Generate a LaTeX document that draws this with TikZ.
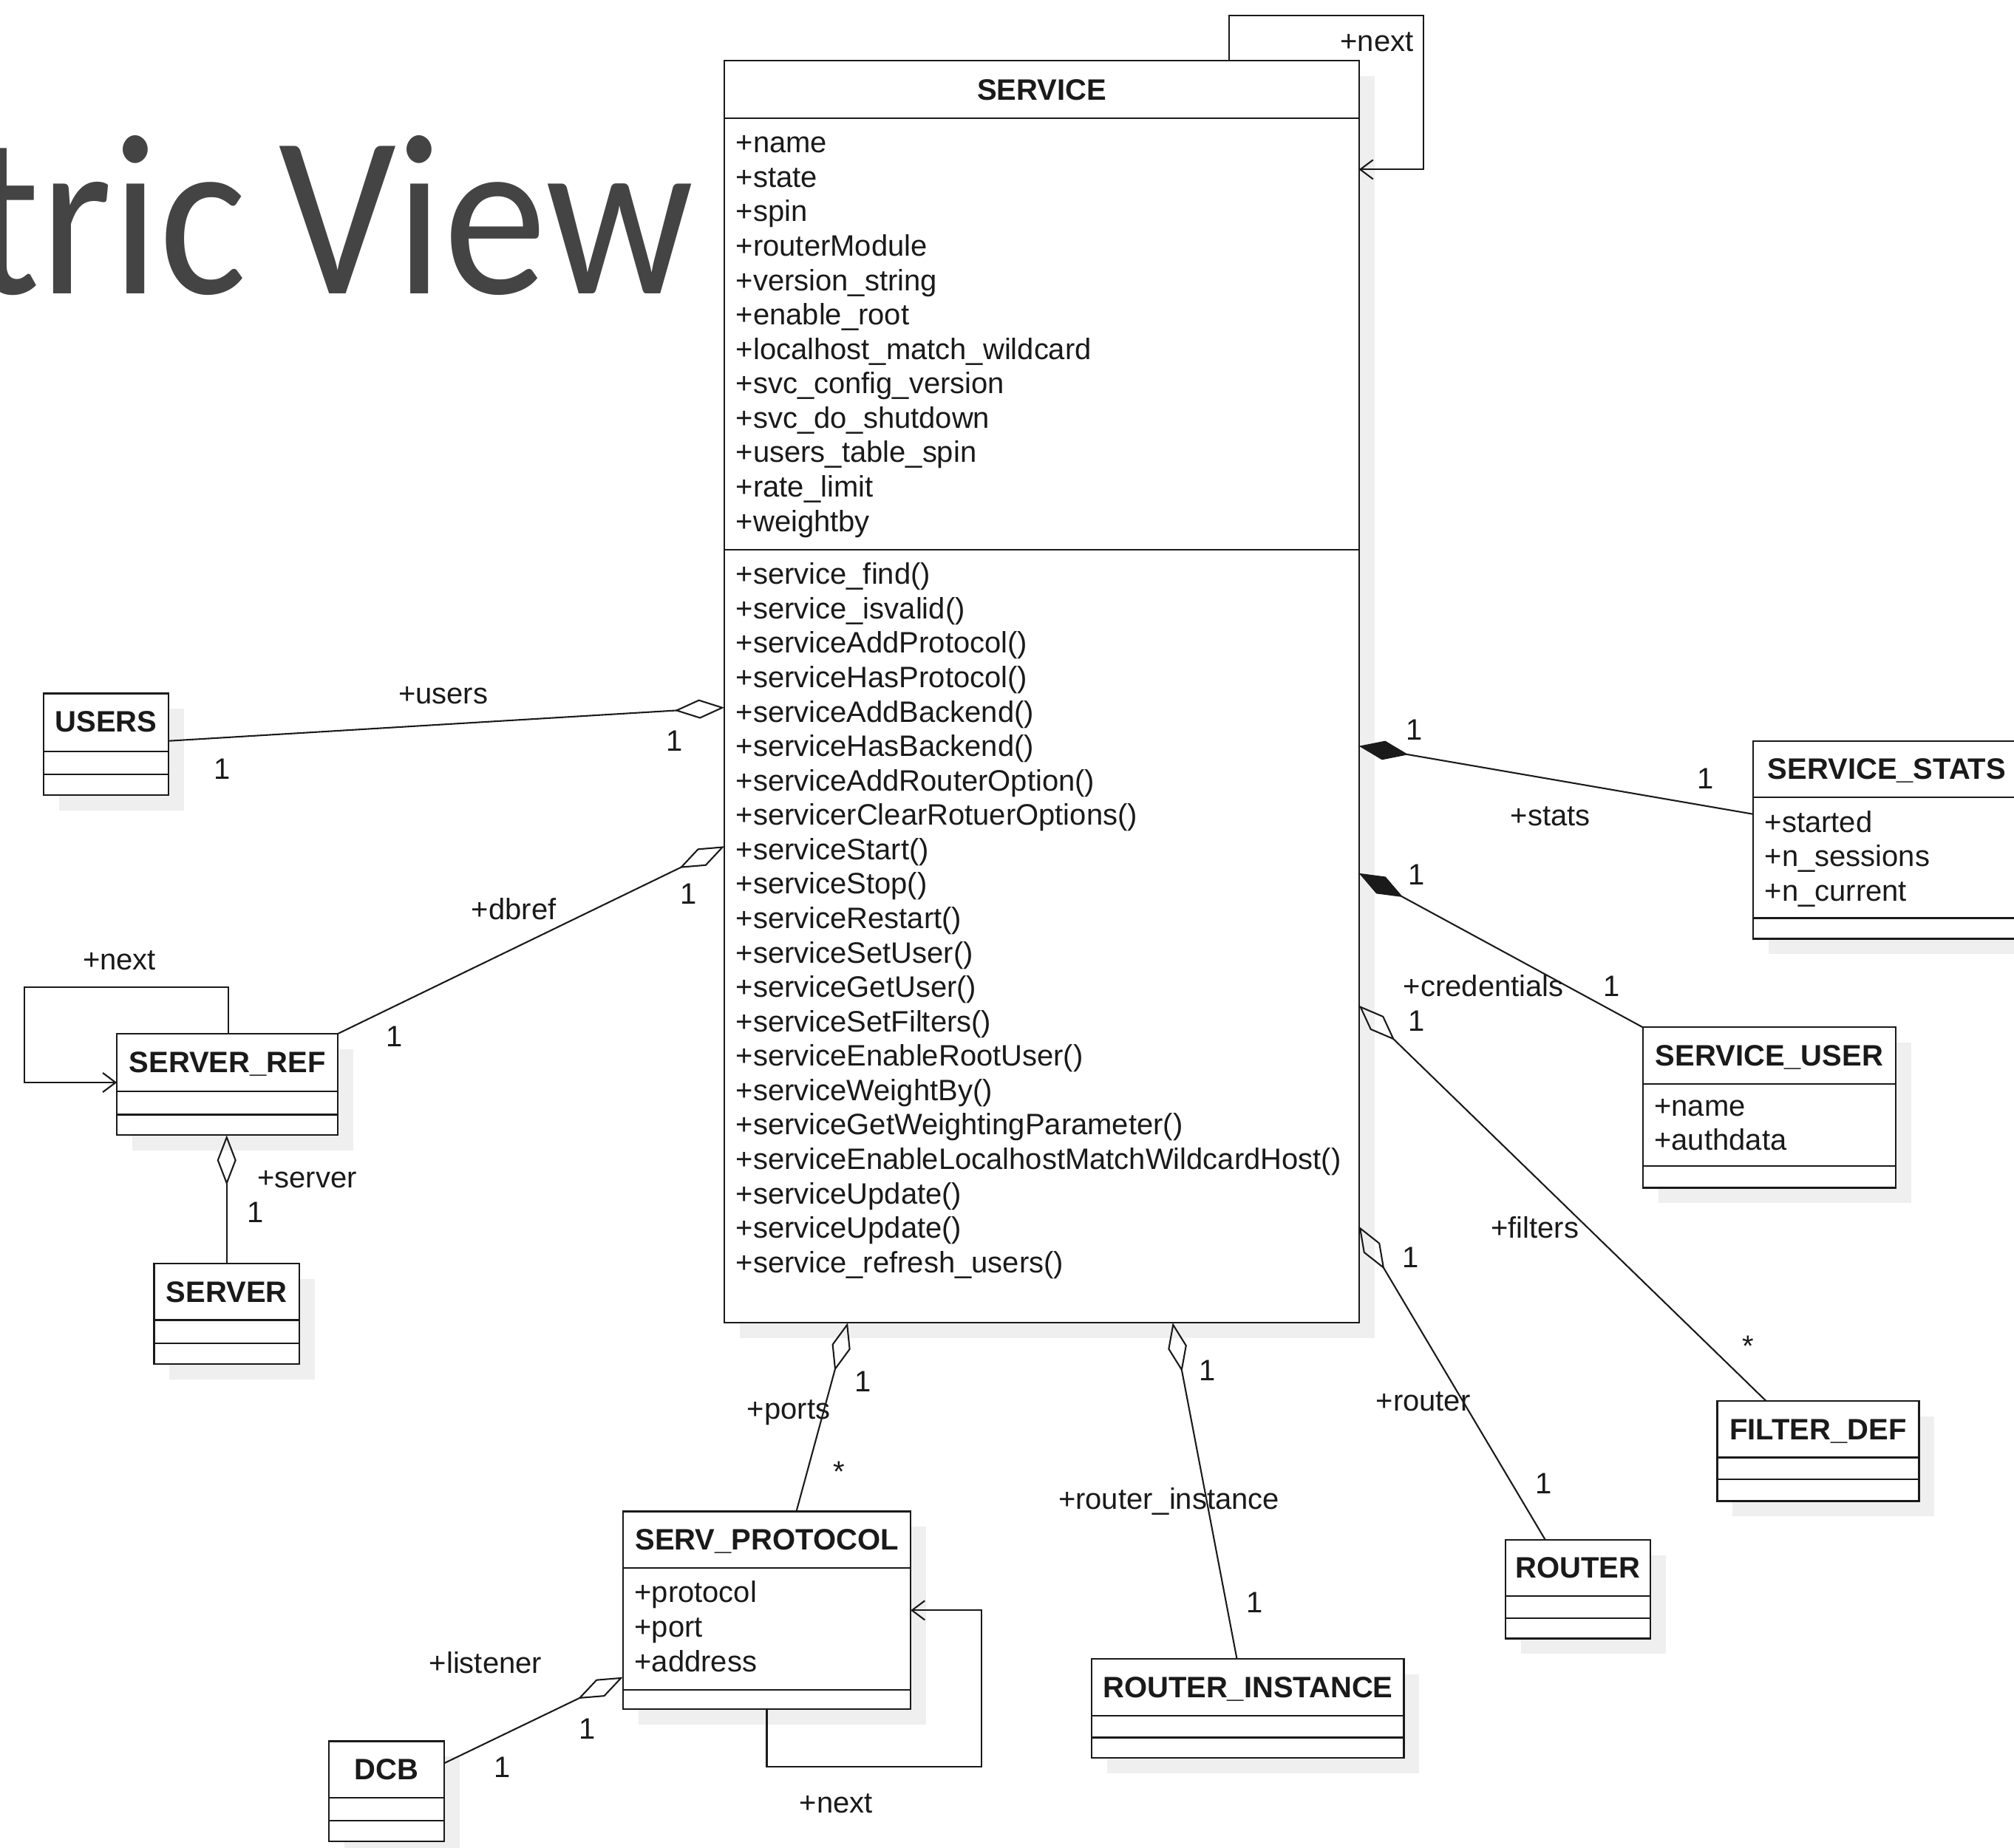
\documentclass[tikz,border=0pt]{standalone}
\usepackage{fontspec}
\setmainfont{Liberation Sans}
\newfontfamily\headfont{Carlito}
\usetikzlibrary{arrows.meta,calc,shadows}
\definecolor{ink}{HTML}{1A1A1A}
\definecolor{headgray}{HTML}{444444}
\definecolor{shade}{HTML}{EFEFEF}

% two compartment rules of a class box, at the given offsets below its top
\newcommand\umlseps[3]{%
  \draw[sep] ($(#1.north west)+(0,#2)$) -- ($(#1.north east)+(0,#2)$);
  \draw[sep] ($(#1.north west)+(0,#3)$) -- ($(#1.north east)+(0,#3)$);}

\begin{document}
\begin{tikzpicture}[x=1pt,y=-1pt,
  every node/.style={inner sep=0pt,outer sep=0pt,text=ink},
  classbox/.style 2 args={draw=ink,line width=1.3pt,fill=white,anchor=north west,
     minimum width=#1,minimum height=#2,
     drop shadow={shadow xshift=12pt,shadow yshift=-12pt,fill=shade,opacity=1}},
  classname/.style={anchor=base,font=\bfseries\fontsize{23}{27}\selectfont},
  member/.style={anchor=base west,font=\fontsize{23}{27}\selectfont},
  lbl/.style={anchor=base,font=\fontsize{23}{27}\selectfont},
  sep/.style={draw=ink,line width=1.3pt},
  assoc/.style={draw=ink,line width=1.2pt},
  aggr/.style={assoc,-{Diamond[open,length=39pt,width=15pt]}},
  comp/.style={assoc,-{Diamond[length=39pt,width=15pt]}},
  selfref/.style={assoc,-{Straight Barb[length=10pt,width=15pt]}}]

\useasboundingbox (0,0) rectangle (1568,1439);
\clip (0,0) rectangle (1568,1439);
\fill[white] (0,0) rectangle (1568,1439);

% slide heading, running off the left edge
\node[anchor=base east,text=headgray,font=\headfont\fontsize{179}{179}\selectfont]
  (heading) at (540,229) {\scalebox{0.9}[1]{tric\kern-13pt\ View}};

% ---------------- SERVICE ----------------
\node[classbox={494}{983}] (svc) at (564,47) {};
\node[classname] (svc-name) at ($(svc.north)+(0,31)$) {SERVICE};
\umlseps{svc}{45}{381}
\foreach \m [count=\i from 0] in {+name,+state,+spin,+routerModule,+version\_string,
    +enable\_root,+localhost\_match\_wildcard,+svc\_config\_version,+svc\_do\_shutdown,
    +users\_table\_spin,+rate\_limit,+weightby}
  \node[member] (svc-attr-\i) at ($(svc.north west)+(9,72+26.8*\i)$) {\m};
\foreach \m [count=\i from 0] in {+service\_find(),+service\_isvalid(),+serviceAddProtocol(),
    +serviceHasProtocol(),+serviceAddBackend(),+serviceHasBackend(),+serviceAddRouterOption(),
    +servicerClearRotuerOptions(),+serviceStart(),+serviceStop(),+serviceRestart(),
    +serviceSetUser(),+serviceGetUser(),+serviceSetFilters(),+serviceEnableRootUser(),
    +serviceWeightBy(),+serviceGetWeightingParameter(),
    +serviceEnableLocalhostMatchWildcardHost(),+serviceUpdate(),+serviceUpdate(),
    +service\_refresh\_users()}
  \node[member] (svc-op-\i) at ($(svc.north west)+(9,408+26.8*\i)$) {\m};

% ---------------- left side ----------------
\node[classbox={97}{79}] (users) at (34,540) {};
\node[classname] (users-name) at ($(users.north)+(0,30)$) {USERS};
\umlseps{users}{45}{63}

\node[classbox={172}{79}] (srvref) at (91,805) {};
\node[classname] (srvref-name) at ($(srvref.north)+(0,30)$) {SERVER\_REF};
\umlseps{srvref}{45}{63}

\node[classbox={113}{78}] (server) at (120,984) {};
\node[classname] (server-name) at ($(server.north)+(0,30)$) {SERVER};
\umlseps{server}{44}{62}

% ---------------- right side ----------------
\node[classbox={208}{154}] (stats) at (1365,577) {};
\node[classname] (stats-name) at ($(stats.north)+(0,30)$) {SERVICE\_STATS};
\umlseps{stats}{44}{138}
\foreach \m [count=\i from 0] in {+started,+n\_sessions,+n\_current}
  \node[member] (stats-attr-\i) at ($(stats.north west)+(9,71+26.8*\i)$) {\m};

\node[classbox={197}{125}] (suser) at (1279,800) {};
\node[classname] (suser-name) at ($(suser.north)+(0,30)$) {SERVICE\_USER};
\umlseps{suser}{44}{108}
\foreach \m [count=\i from 0] in {+name,+authdata}
  \node[member] (suser-attr-\i) at ($(suser.north west)+(9,69+26.8*\i)$) {\m};

\node[classbox={157}{78}] (filter) at (1337,1091) {};
\node[classname] (filter-name) at ($(filter.north)+(0,30)$) {FILTER\_DEF};
\umlseps{filter}{44}{61}

\node[classbox={113}{77}] (router) at (1172,1199) {};
\node[classname] (router-name) at ($(router.north)+(0,30)$) {ROUTER};
\umlseps{router}{44}{61}

% ---------------- bottom ----------------
\node[classbox={243}{77}] (rinst) at (850,1292) {};
\node[classname] (rinst-name) at ($(rinst.north)+(0,30)$) {ROUTER\_INSTANCE};
\umlseps{rinst}{44}{61}

\node[classbox={224}{154}] (sproto) at (485,1177) {};
\node[classname] (sproto-name) at ($(sproto.north)+(0,30)$) {SERV\_PROTOCOL};
\umlseps{sproto}{44}{139}
\foreach \m [count=\i from 0] in {+protocol,+port,+address}
  \node[member] (sproto-attr-\i) at ($(sproto.north west)+(9,71+26.8*\i)$) {\m};

\node[classbox={90}{78}] (dcb) at (256,1356) {};
\node[classname] (dcb-name) at ($(dcb.north)+(0,30)$) {DCB};
\umlseps{dcb}{44}{62}

% ---------------- associations ----------------
\draw[aggr] ($(users.north east)+(0,37)$) -- ($(svc.north west)+(0,504)$);
\draw[aggr] (srvref.north east) -- ($(svc.north west)+(0,612)$);
\draw[aggr] (server.north) -- (server.north |- srvref.south);
\draw[selfref] ($(srvref.north west)+(87,0)$) -- ++(0,-36) -- ++(-159,0) -- ++(0,74)
  -- ($(srvref.north west)+(0,38)$);
\draw[selfref] ($(svc.north west)+(393,0)$) -- ++(0,-35) -- ++(151,0) -- ++(0,120)
  -- ($(svc.north east)+(0,85)$);
\draw[comp] ($(stats.north west)+(0,57)$) -- ($(svc.north east)+(0,534)$);
\draw[comp] (suser.north west) -- ($(svc.north east)+(0,633)$);
\draw[aggr] ($(filter.north west)+(38,0)$) -- ($(svc.north east)+(0,736)$);
\draw[aggr] ($(router.north west)+(31,0)$) -- ($(svc.north east)+(0,908)$);
\draw[aggr] ($(rinst.north west)+(113,0)$) -- ($(svc.south west)+(349,0)$);
\draw[aggr] ($(sproto.north west)+(135,0)$) -- ($(svc.south west)+(96,0)$);
\draw[aggr] ($(dcb.north east)+(0,17)$) -- ($(sproto.north west)+(0,129)$);
\draw[selfref] ($(sproto.south west)+(112,0)$) -- ++(0,45) -- ++(167,0) -- ++(0,-122)
  -- ($(sproto.north east)+(0,77)$);

% ---------------- role names and multiplicities ----------------
\foreach \x/\y/\t [count=\i] in {
    1072/40/+next, 345/548/+users, 525/585/1, 173/607/1,
    400/716/+dbref, 536/704/1, 307/815/1, 93/755/+next,
    239/925/+server, 199/952/1,
    1101/576/1, 1328/614/1, 1207/643/+stats,
    1103/689/1, 1155/776/+credentials, 1255/776/1,
    1103/803/1, 1195/964/+filters, 1361/1056/*,
    1098/987/1, 1108/1099/+router, 1202/1163/1,
    940/1075/1, 910/1175/+router\_instance, 977/1256/1,
    672/1084/1, 614/1105/+ports, 653/1154/*,
    651/1412/+next, 378/1303/+listener, 457/1354/1, 391/1384/1}
  \node[lbl] (role-\i) at (\x,\y) {\t};

\end{tikzpicture}
\end{document}
